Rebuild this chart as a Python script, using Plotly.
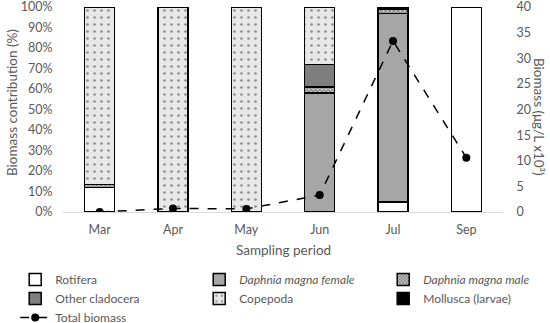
import plotly.graph_objects as go

months = ["Mar", "Apr", "May", "Jun", "Jul", "Sep"]
rotifera = [0.12, 0, 0, 0, 0.05, 1.0]
daphnia_female = [0, 0, 0, 0.58, 0.92, 0]
daphnia_male = [0.015, 0, 0, 0.03, 0.02, 0]
other_cladocera = [0, 0, 0, 0.11, 0, 0]
copepoda = [0.865, 1.0, 1.0, 0.28, 0, 0]
mollusca = [0, 0, 0, 0, 0.01, 0]
total_biomass = [0.0, 0.7, 0.6, 3.3, 33.4, 10.6]
left_ticks = [0, 0.1, 0.2, 0.3, 0.4, 0.5, 0.6, 0.7, 0.8, 0.9, 1.0]
right_ticks = [0, 5, 10, 15, 20, 25, 30, 35, 40]

W, H = 550, 323
PL, PR, PT, PB = 63, 503, 7, 212  # plot-area pixel box

font = "Lato, Liberation Sans, sans-serif"
grey = "#595959"
line = dict(color="black", width=1.5)

fig = go.Figure()
fig.add_bar(x=months, y=rotifera, name="Rotifera",
            marker=dict(color="white", line=line))
fig.add_bar(x=months, y=daphnia_female, name="<i>Daphnia magna female</i>",
            marker=dict(color="#a6a6a6", line=line))
fig.add_bar(x=months, y=daphnia_male, name="<i>Daphnia magna male</i>",
            marker=dict(color="#d9d9d9", line=line,
                        pattern=dict(shape="x", fgcolor="#2b2b2b", bgcolor="#d9d9d9",
                                     size=3, solidity=0.6)))
fig.add_bar(x=months, y=other_cladocera, name="Other cladocera",
            marker=dict(color="#7f7f7f", line=line))
fig.add_bar(x=months, y=copepoda, name="Copepoda",
            marker=dict(color="#e8e8e8", line=line,
                        pattern=dict(shape=".", fgcolor="#333333", bgcolor="#e8e8e8",
                                     size=7, solidity=0.12)))
fig.add_bar(x=months, y=mollusca, name="Mollusca (larvae)",
            marker=dict(color="black", line=line))
fig.add_scatter(x=months, y=total_biomass, name="Total biomass", yaxis="y2",
                mode="lines+markers",
                line=dict(color="black", width=1.5, dash="dash"),
                marker=dict(color="black", size=8))

ph = PB  # paper height (top margin 0)
fig.update_layout(
    barmode="stack",
    bargap=0.59,
    width=W, height=H,
    margin=dict(l=0, r=0, t=0, b=H - PB),
    plot_bgcolor="white", paper_bgcolor="white",
    font=dict(family=font, size=12, color=grey),
    xaxis=dict(domain=[PL / W, PR / W], showline=True, linecolor="#d9d9d9", linewidth=1,
               ticks="outside", ticklen=6, tickcolor="rgba(0,0,0,0)", automargin=False,
               tickfont=dict(size=12.5)),
    yaxis=dict(domain=[0, (PB - PT) / PB], range=[0, 1.0005], tickvals=left_ticks,
               tickformat=".0%", showgrid=False, automargin=False,
               zeroline=False, ticks="outside", ticklen=7, tickcolor="rgba(0,0,0,0)",
               ticklabeloverflow="allow", tickfont=dict(size=12.5)),
    yaxis2=dict(range=[0, 40.02], tickvals=right_ticks, overlaying="y", side="right",
                showgrid=False, zeroline=False, ticks="outside", ticklen=10,
                tickcolor="rgba(0,0,0,0)", ticklabeloverflow="allow", automargin=False,
                tickfont=dict(size=12.5)),
    legend=dict(orientation="h", xref="container", yref="container",
                x=15.2 / W, xanchor="left", y=(H - 265) / H, yanchor="top",
                entrywidth=139, entrywidthmode="pixels", traceorder="normal",
                font=dict(size=12, color=grey), itemwidth=30, tracegroupgap=0,
                bgcolor="rgba(0,0,0,0)"),
    showlegend=True,
    annotations=[
        dict(text="Biomass (μg/L x10³)", textangle=90, xref="paper", yref="paper",
             x=PR / W, xshift=36, xanchor="center", y=(PB - 117) / ph, yanchor="middle",
             showarrow=False, font=dict(size=13.5, color=grey)),
        dict(text="Biomass contribution (%)", textangle=-90, xref="paper", yref="paper",
             x=0, xshift=12, xanchor="center", y=(PB - 103) / ph, yanchor="middle",
             showarrow=False, font=dict(size=13.5, color=grey)),
        dict(text="Sampling period", xref="paper", yref="paper",
             x=(PL + PR) / 2 / W, xanchor="center", y=-(250 - PB) / ph, yanchor="middle",
             showarrow=False, font=dict(size=13.5, color=grey)),
    ],
)

fig.write_html("out.html", config={"displayModeBar": False},
               post_script="document.body.style.margin='0';")
